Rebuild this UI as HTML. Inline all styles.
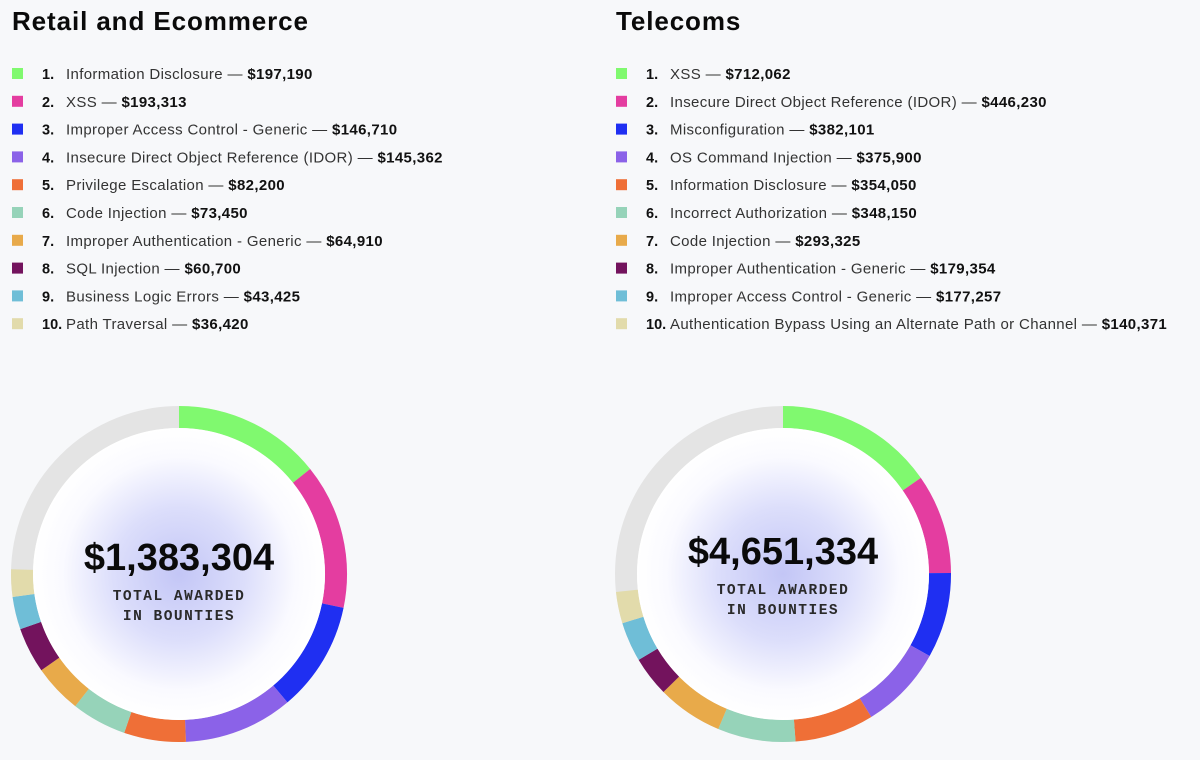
<!DOCTYPE html>
<html><head><meta charset="utf-8">
<style>
body{margin:0;width:1200px;height:760px;background:#f7f8fa;overflow:hidden;font-family:"Liberation Sans",sans-serif;}
svg{display:block}
</style></head>
<body>
<svg id="chart" width="1200" height="760" xmlns="http://www.w3.org/2000/svg">
<defs>
<radialGradient id="glow" cx="50%" cy="50%" r="50%">
<stop offset="0%" stop-color="#c3c6f6"/>
<stop offset="45%" stop-color="#dcdefb"/>
<stop offset="80%" stop-color="#fafaff"/>
<stop offset="100%" stop-color="#ffffff"/>
</radialGradient>
</defs>
</svg>
<script>
const colors=["#80f96f","#e43da0","#1f2ff2","#8b62e8","#ef6f37","#96d3b9","#e8aa4a","#73135d","#6fbed7","#e2dbab"];
const retailLabels=["Information Disclosure","XSS","Improper Access Control - Generic","Insecure Direct Object Reference (IDOR)","Privilege Escalation","Code Injection","Improper Authentication - Generic","SQL Injection","Business Logic Errors","Path Traversal"];
const retailValues=[197190,193313,146710,145362,82200,73450,64910,60700,43425,36420];
const retailTotal=1383304;
const telecomLabels=["XSS","Insecure Direct Object Reference (IDOR)","Misconfiguration","OS Command Injection","Information Disclosure","Incorrect Authorization","Code Injection","Improper Authentication - Generic","Improper Access Control - Generic","Authentication Bypass Using an Alternate Path or Channel"];
const telecomValues=[712062,446230,382101,375900,354050,348150,293325,179354,177257,140371];
const telecomTotal=4651334;

const NS="http://www.w3.org/2000/svg";
const svg=document.getElementById('chart');
function mk(tag,attrs,parent){const e=document.createElementNS(NS,tag);for(const k in attrs)e.setAttribute(k,attrs[k]);(parent||svg).appendChild(e);return e;}
const fmt=v=>'$'+v.toLocaleString('en-US');

function panel(x0,title,labels,values,total,cx,cy,slug,textDy){
  const g=mk('g',{});
  
  
  const t=mk('text',{x:x0,y:30,'font-size':26,'font-weight':'bold',fill:'#0a0a0a','letter-spacing':'0.9'},g);
  
  
  t.textContent=title;
  labels.forEach((lab,i)=>{
    const y=74+i*27.8;
    const row=mk('g',{},g);
    
    
    const sw=mk('rect',{x:x0,y:y-6,width:11,height:11,fill:colors[i]},row);
    
    
    const n=mk('text',{x:x0+30,y:y+5,'font-size':14.5,'font-weight':'bold',fill:'#111'},row);
    n.textContent=(i+1)+'.';
    const tx=mk('text',{x:x0+54,y:y+5,'font-size':15,fill:'#333','letter-spacing':'0.35'},row);
    tx.textContent=lab+' — ';
    const b=mk('tspan',{'font-weight':'bold',fill:'#111'},tx);
    b.textContent=fmt(values[i]);
  });
  const R=157,W=22;
  const bg=mk('circle',{cx:cx,cy:cy,r:R,fill:'none',stroke:'#e4e4e4','stroke-width':W},g);
  
  
  let acc=0;
  values.forEach((v,i)=>{
    const a0=acc/total*2*Math.PI;acc+=v;const a1=acc/total*2*Math.PI;
    const p=(a)=>[cx+R*Math.sin(a),cy-R*Math.cos(a)];
    const [x1,y1]=p(a0),[x2,y2]=p(a1);
    const arc=mk('path',{d:`M${x1},${y1} A${R},${R} 0 ${a1-a0>Math.PI?1:0} 1 ${x2},${y2}`,fill:'none',stroke:colors[i],'stroke-width':W},g);
    
    
  });
  const inner=mk('circle',{cx:cx,cy:cy,r:R-W/2,fill:'url(#glow)'},g);
  
  
  const tot=mk('text',{x:cx,y:cy-4+textDy,'text-anchor':'middle','font-size':38,'font-weight':'bold',fill:'#0a0a0a'},g);
  
  
  tot.textContent=fmt(total);
  const l1=mk('text',{x:cx,y:cy+26+textDy,'text-anchor':'middle','font-size':14.5,'font-family':'Liberation Mono, monospace','letter-spacing':'1.5',fill:'#2a2a2a','font-weight':'bold'},g);
  
  
  l1.textContent='TOTAL AWARDED';
  const l2=mk('text',{x:cx,y:cy+46+textDy,'text-anchor':'middle','font-size':14.5,'font-family':'Liberation Mono, monospace','letter-spacing':'1.5',fill:'#2a2a2a','font-weight':'bold'},g);
  
  
  l2.textContent='IN BOUNTIES';
}
panel(12,'Retail and Ecommerce',retailLabels,retailValues,retailTotal,179,574,'retail',0);
panel(616,'Telecoms',telecomLabels,telecomValues,telecomTotal,783,574,'telecoms',-6);
</script>
</body></html>
